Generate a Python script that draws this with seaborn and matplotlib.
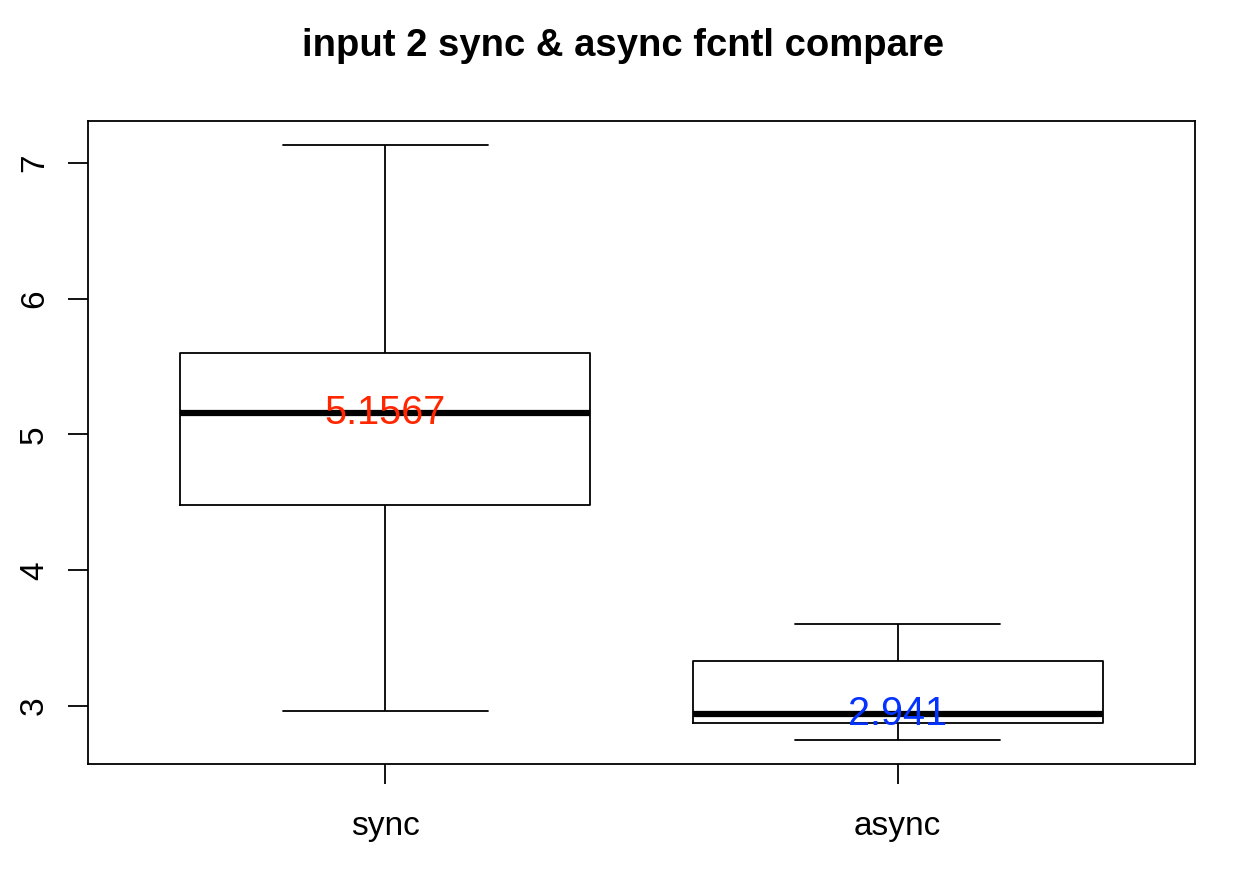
import numpy as np
import pandas as pd
import matplotlib
matplotlib.use("Agg")
import matplotlib.pyplot as plt
import seaborn as sns

# five-number summaries (min, q1, median, q3, max)
groups = ["sync", "async"]
sync_vals = [2.963, 4.481, 5.1567, 5.600, 7.133]
async_vals = [2.750, 2.875, 2.941, 3.332, 3.604]
median_labels = ["5.1567", "2.941"]
label_colors = ["#ff2600", "#0433ff"]

df = pd.DataFrame({
    "group": ["sync"] * len(sync_vals) + ["async"] * len(async_vals),
    "value": sync_vals + async_vals,
})

sns.set_style("white")
plt.rcParams["font.family"] = ["Liberation Sans", "DejaVu Sans"]
plt.rcParams["text.color"] = "black"
plt.rcParams["xtick.color"] = "black"
plt.rcParams["ytick.color"] = "black"

fig = plt.figure(figsize=(12.46, 8.96), dpi=100)
ax = fig.add_axes([88 / 1246, 1 - 764 / 896, (1195 - 88) / 1246, (764 - 121) / 896])

sns.boxplot(data=df, x="group", y="value", order=groups, whis=np.inf, width=0.8,
            fill=False, color="black", linewidth=1.3, ax=ax,
            medianprops=dict(linewidth=4.5, color="black"))

for i, (vals, lab, col) in enumerate(zip([sync_vals, async_vals], median_labels, label_colors)):
    ax.text(i, vals[2], lab, color=col, fontsize=28.5, ha="center", va="center")

ax.set_xlim(-0.58, 1.58)
ax.set_ylim(2.573, 7.309)
ax.set_yticks([3, 4, 5, 6, 7])
ax.set_yticklabels(["3", "4", "5", "6", "7"], rotation=90, va="center")
ax.set_xlabel("")
ax.set_ylabel("")
ax.tick_params(axis="both", direction="out", length=14.5, width=1.3, labelsize=24,
               left=True, bottom=True, color="black", labelcolor="black")
ax.tick_params(axis="x", pad=19)
ax.tick_params(axis="y", pad=13)
for s in ax.spines.values():
    s.set_color("black")
    s.set_linewidth(1.3)

fig.suptitle("input 2 sync & async fcntl compare", fontsize=27.5, fontweight="bold",
             color="black", y=1 - 46 / 896, va="center")

fig.savefig("out.png", dpi=100, facecolor="white")
